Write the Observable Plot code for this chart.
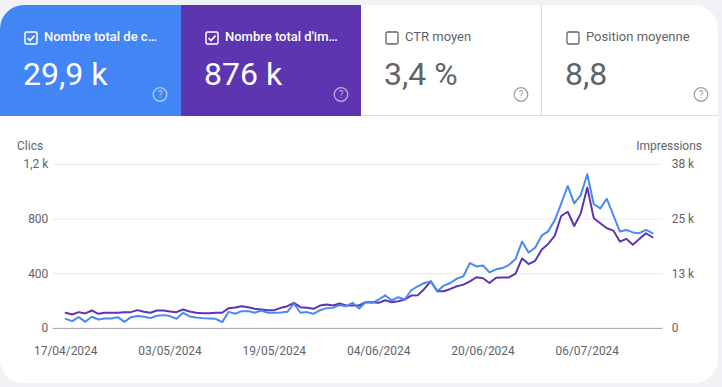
<!DOCTYPE html>
<html><head><meta charset="utf-8">
<script src="https://cdn.jsdelivr.net/npm/d3@7"></script>
<script src="https://cdn.jsdelivr.net/npm/@observablehq/plot@0.6"></script>
<style>
html,body{margin:0;padding:0;width:722px;height:387px;overflow:hidden;background:#f0f2f6;font-family:Roboto,sans-serif;}
#card{position:absolute;left:0;top:5px;width:718px;height:378px;background:#fff;border-radius:24px;overflow:hidden;}
.tile{position:absolute;top:0;height:111px;box-sizing:border-box;}
.cb{position:absolute;left:24px;top:26px;}
.lbl{position:absolute;left:44px;top:24px;font-size:13px;line-height:16px;white-space:nowrap;}
.val{position:absolute;left:23px;top:53px;font-size:32px;line-height:32px;white-space:nowrap;}
.q{position:absolute;left:151px;top:81px;}
#clicsLbl{position:absolute;left:17px;top:134px;font-size:12px;line-height:14px;color:#5f6368;}
#impLbl{position:absolute;right:16px;top:134px;font-size:12px;line-height:14px;color:#5f6368;}
#chart{position:absolute;left:0;top:125px;}
</style></head>
<body>
<div id="card">
  <div id="tiles"></div>
  <div id="clicsLbl">Clics</div>
  <div id="impLbl">Impressions</div>
  <div id="chart"></div>
</div>
<script>
// ---- Data ----
const startDate = "2024-04-17";
const clicks = [70,53,82,48,85,65,73,73,82,48,82,90,85,75,92,97,90,70,114,87,80,75,73,70,46,121,107,126,126,114,131,114,114,116,121,182,114,119,107,133,148,150,170,162,187,145,191,187,211,242,204,228,211,279,308,332,344,271,313,332,364,381,478,453,460,410,432,441,465,507,635,555,590,678,710,790,912,1042,914,975,1127,908,878,948,829,708,720,702,696,720,696];
const impressions = [3608,3224,3762,3455,4145,3378,3608,3608,3608,3762,3762,4222,3838,3608,4145,4145,3915,3762,4376,3915,3608,3531,3531,3608,3608,4683,4836,5143,4913,4530,4376,4222,4222,4760,5143,5911,4913,4760,4530,5297,5527,5297,5758,5297,5297,5300,6065,6065,5912,6525,6065,6295,6679,7600,7677,9135,10900,8600,8600,9135,9750,10130,10900,11850,11600,10520,11750,11800,11800,12700,16200,14900,15660,18190,19575,21420,26020,27020,23720,26640,32630,25490,24340,23180,22650,20110,20730,19350,20730,22030,21110];
const clickTicks = [0,400,800,1200];
const clickTickLabels = ["0","400","800","1,2 k"];
const impTickLabels = ["0","13 k","25 k","38 k"];
const clickMax = 1200, impMax = 38000;
const xTickDates = ["2024-04-17","2024-05-03","2024-05-19","2024-06-04","2024-06-20","2024-07-06"];

const tileNames = ["Nombre total de c…","Nombre total d'im…","CTR moyen","Position moyenne"];
const tileValues = ["29,9 k","876 k","3,4 %","8,8"];
const tileChecked = [true,true,false,false];
const tileColors = ["#4285f4","#5e35b1",null,null];

// ---- Tiles ----
const tilesEl = document.getElementById("tiles");
const lefts = [0,181,361,541], widths = [181,180,180,177];
tileNames.forEach((name,i)=>{
  const t = document.createElement("div");
  t.className = "tile";
  t.style.left = lefts[i]+"px"; t.style.width = widths[i]+"px";
  const on = tileChecked[i];
  const fg = on ? "#fff" : "#5f6368";
  if (on) t.style.background = tileColors[i];
  else { t.style.borderBottom = "1px solid #dadce0"; if (i===3) t.style.borderLeft = "1px solid #dadce0"; }
  const cb = on
    ? `<svg class="cb" width="14" height="14"><rect x="1" y="1" width="12" height="12" rx="1.5" fill="none" stroke="#fff" stroke-width="1.5"/><path d="M3.6 7.2 L6 9.5 L10.6 4.6" fill="none" stroke="#fff" stroke-width="1.6"/></svg>`
    : `<svg class="cb" width="14" height="14"><rect x="1" y="1" width="12" height="12" rx="1.5" fill="none" stroke="#5f6368" stroke-width="1.3"/></svg>`;
  const qc = on ? "rgba(255,255,255,0.6)" : "#9aa0a6";
  const q = `<svg class="q" width="18" height="18"><circle cx="9" cy="8.5" r="6.8" fill="none" stroke="${qc}" stroke-width="1.3"/><text x="9" y="12" text-anchor="middle" font-size="10" font-family="Roboto" fill="${qc}">?</text></svg>`;
  t.innerHTML = cb +
    `<div class="lbl" style="color:${fg};font-weight:${on?500:400}">${name}</div>` +
    `<div class="val" style="color:${fg}">${tileValues[i]}</div>` + q;
  if (i===0 || i===1) t.querySelector(".q").style.left = "151px";
  else t.querySelector(".q").style.left = (i===2?151:150)+"px";
  tilesEl.appendChild(t);
});

// ---- Chart ----
const start = new Date(startDate);
const data = clicks.map((c,i)=>({date:d3.utcDay.offset(start,i), clicks:c, imp:impressions[i]}));
const end = data[data.length-1].date;
const toClickScale = v => v*clickMax/impMax;

const chart = Plot.plot({
  width:722, height:240,
  marginTop:34, marginBottom:41, marginLeft:53, marginRight:56,
  style:{fontFamily:"Roboto, sans-serif", fontSize:"12px", color:"#5f6368", background:"transparent", overflow:"visible"},
  x:{type:"utc", domain:[d3.utcHour.offset(start,-46), d3.utcHour.offset(end,38)]},
  y:{domain:[0,clickMax]},
  marks:[
    Plot.ruleY(clickTicks.slice(1),{stroke:"#e8eaed"}),
    Plot.ruleY([0],{stroke:"#9aa0a6"}),
    Plot.axisX({ticks:xTickDates.map(s=>new Date(s)), tickFormat:d3.utcFormat("%d/%m/%Y"), tickSize:0, tickPadding:18, label:null, fill:"#5f6368"}),
    Plot.axisY({anchor:"left", ticks:clickTicks, tickFormat:d=>clickTickLabels[clickTicks.indexOf(d)], tickSize:0, tickPadding:5, label:null, fill:"#5f6368"}),
    Plot.axisY({anchor:"right", ticks:clickTicks, tickFormat:d=>impTickLabels[clickTicks.indexOf(d)], tickSize:0, tickPadding:9, label:null, fill:"#5f6368"}),
    Plot.lineY(data,{x:"date", y:d=>toClickScale(d.imp), stroke:"#5e35b1", strokeWidth:2}),
    Plot.lineY(data,{x:"date", y:"clicks", stroke:"#4a8af0", strokeWidth:2})
  ]
});
document.getElementById("chart").appendChild(chart);
</script>
</body></html>
